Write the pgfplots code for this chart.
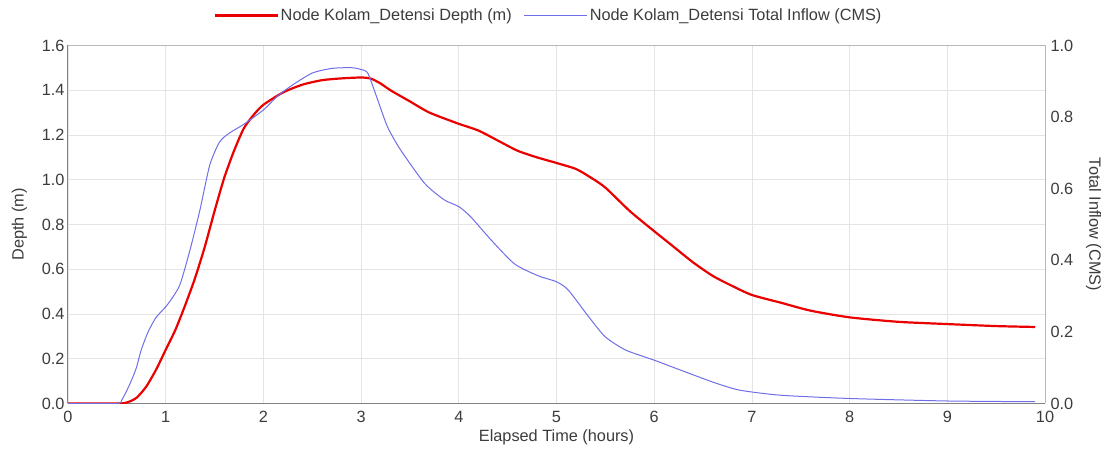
\documentclass[border=0pt]{standalone}
\usepackage{fontspec}
\setmainfont{Liberation Sans}
\usepackage{pgfplots}
\pgfplotsset{compat=1.18}

\definecolor{depthred}{RGB}{235,0,0}
\definecolor{inflowblue}{RGB}{110,110,232}
\definecolor{gridgray}{RGB}{228,228,228}
\definecolor{txtgray}{RGB}{60,60,60}
\definecolor{axgray}{RGB}{130,130,130}
\definecolor{boxgray}{RGB}{185,185,185}

\newcommand{\chartfont}{\fontsize{16.3}{19}\selectfont}

\begin{document}
\begin{tikzpicture}
\begin{axis}[
    name=main,
    scale only axis,
    width=977pt, height=358pt,
    xmin=0, xmax=10, ymin=0, ymax=1.6,
    axis x line*=bottom, axis y line*=left,
    axis line style={axgray, line width=1pt},
    xtick distance=1,
    ytick={0,0.2,...,1.6},
    major tick length=0pt,
    grid=major,
    major grid style={gridgray, line width=0.8pt},
    /pgf/number format/assume math mode=true,
    tick label style={font=\chartfont, text=txtgray},
    xticklabel style={yshift=-4pt},
    yticklabel style={/pgf/number format/.cd, fixed, fixed zerofill, precision=1},
    xlabel={Elapsed Time (hours)},
    ylabel={Depth (m)},
    xlabel shift=0pt,
    ylabel shift=8pt,
    label style={font=\chartfont, text=txtgray},
    legend style={at={(0.5,1)}, anchor=center, xshift=-8pt, yshift=30pt, draw=none, fill=none,
        font=\chartfont, text=txtgray,
        /tikz/every even column/.append style={column sep=10pt}},
    legend columns=-1,
    legend image code/.code={\draw[#1] (0pt,0pt) -- (63pt,0pt);},
]
\addplot[depthred, line width=2.2pt, smooth, tension=0.4] coordinates {
    (0,0) (0.5,0) (0.6,0.004) (0.7,0.025) (0.8,0.075) (0.9,0.15)
    (1.0,0.24) (1.1,0.33) (1.2,0.44) (1.3,0.56) (1.4,0.70) (1.5,0.86)
    (1.6,1.01) (1.7,1.13) (1.8,1.23) (1.9,1.29) (2.0,1.335) (2.2,1.39)
    (2.4,1.425) (2.6,1.445) (2.8,1.453) (3.0,1.457) (3.1,1.452) (3.2,1.43)
    (3.3,1.40) (3.5,1.35) (3.7,1.30) (4.0,1.25) (4.2,1.22) (4.4,1.175)
    (4.6,1.13) (4.8,1.10) (5.0,1.075) (5.2,1.048) (5.35,1.01) (5.5,0.965)
    (5.75,0.86) (6.0,0.77) (6.2,0.70) (6.4,0.63) (6.6,0.57) (6.8,0.525)
    (7.0,0.485) (7.3,0.45) (7.6,0.415) (8.0,0.385) (8.5,0.365) (9.0,0.355)
    (9.5,0.346) (9.9,0.342)
};
\addlegendentry{Node Kolam\_Detensi Depth (m)}
\addlegendimage{inflowblue, line width=1pt}
\addlegendentry{Node Kolam\_Detensi Total Inflow (CMS)}
\end{axis}
\begin{axis}[
    scale only axis,
    width=977pt, height=358pt,
    xmin=0, xmax=10, ymin=0, ymax=1.0,
    axis x line*=top, axis y line*=right,
    axis line style={boxgray, line width=1pt},
    xtick=\empty,
    ytick={0,0.2,...,1.0},
    major tick length=0pt,
    /pgf/number format/assume math mode=true,
    tick label style={font=\chartfont, text=txtgray},
    yticklabel style={xshift=2pt, /pgf/number format/.cd, fixed, fixed zerofill, precision=1},
    ylabel={Total Inflow (CMS)},
    ylabel style={rotate=180},
    ylabel shift=6pt,
    label style={font=\chartfont, text=txtgray},
]
\addplot[inflowblue, line width=1pt, smooth, tension=0.4] coordinates {
    (0,0) (0.5,0) (0.55,0.01) (0.6,0.035) (0.65,0.065) (0.7,0.10)
    (0.75,0.15) (0.82,0.20) (0.9,0.24) (1.0,0.27) (1.08,0.30) (1.15,0.335)
    (1.25,0.43) (1.35,0.54) (1.45,0.665) (1.55,0.73) (1.65,0.755) (1.8,0.78)
    (2.0,0.82) (2.15,0.86) (2.3,0.89) (2.5,0.923) (2.7,0.936) (2.9,0.938)
    (3.0,0.933) (3.07,0.922) (3.17,0.848) (3.27,0.773) (3.4,0.71) (3.65,0.615)
    (3.85,0.569) (4.0,0.55) (4.12,0.522) (4.33,0.457) (4.57,0.39) (4.81,0.357)
    (5.0,0.34) (5.12,0.317) (5.33,0.242) (5.5,0.186) (5.71,0.149) (6.0,0.121)
    (6.36,0.084) (6.64,0.056) (6.88,0.037) (7.3,0.023) (8.0,0.014) (9.0,0.007)
    (9.9,0.005)
};
\end{axis}
\pgfresetboundingbox
\path[use as bounding box] ([xshift=-68pt,yshift=-45.5pt]main.south west)
    rectangle ([xshift=61pt,yshift=45.5pt]main.north east);
\end{tikzpicture}
\end{document}
